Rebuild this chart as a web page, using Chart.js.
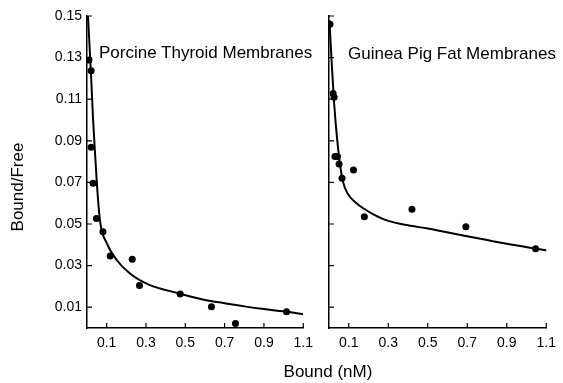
<!DOCTYPE html>
<html>
<head>
<meta charset="utf-8">
<script src="https://cdn.jsdelivr.net/npm/chart.js@4.4.1/dist/chart.umd.min.js"></script>
<style>
html,body{margin:0;padding:0;background:#fff;}
#wrap{position:relative;width:563px;height:383px;overflow:hidden;font-family:"Liberation Sans",Arial,sans-serif;color:#000;background:#fff;}
.box{position:absolute;top:0;height:383px;}
.lbl{position:absolute;font-size:17px;white-space:nowrap;line-height:1;color:#000;}
#ytitle{left:-32px;top:178px;width:100px;height:18px;line-height:18px;text-align:center;transform:rotate(-90deg);}
</style>
</head>
<body>
<div id="wrap">
  <div class="box" style="left:0;width:320px"><canvas id="c1"></canvas></div>
  <div class="box" style="left:300px;width:263px"><canvas id="c2"></canvas></div>
  <div class="lbl" style="left:99px;top:44px">Porcine Thyroid Membranes</div>
  <div class="lbl" style="left:348px;top:45px">Guinea Pig Fat Membranes</div>
  <div class="lbl" style="left:228px;width:200px;text-align:center;top:363px">Bound (nM)</div>
  <div class="lbl" id="ytitle">Bound/Free</div>
</div>
<script>
// ---- Data ----
const xTickValues = [0.1, 0.3, 0.5, 0.7, 0.9, 1.1];
const xTickLabels = ['0.1', '0.3', '0.5', '0.7', '0.9', '1.1'];
const yTickValues = [0.01, 0.03, 0.05, 0.07, 0.09, 0.11, 0.13, 0.15];
const yTickLabels = ['0.01', '0.03', '0.05', '0.07', '0.09', '0.11', '0.13', '0.15'];

// Porcine Thyroid Membranes
const thyroidBound = [0.010, 0.021, 0.021, 0.031, 0.048, 0.081, 0.118, 0.230, 0.267, 0.474, 0.633, 0.755, 1.015];
const thyroidRatio = [0.1288, 0.1237, 0.0869, 0.0696, 0.0527, 0.0463, 0.0346, 0.0330, 0.0204, 0.0163, 0.0102, 0.0022, 0.0078];
const thyroidFitBound = [0.005, 0.021, 0.031, 0.043, 0.055, 0.068, 0.101, 0.151, 0.217, 0.317, 0.466, 0.600, 0.700, 0.800, 0.900, 1.000, 1.100];
const thyroidFitRatio = [0.1500, 0.1208, 0.1000, 0.0808, 0.0631, 0.0503, 0.0407, 0.0327, 0.0263, 0.0207, 0.0167, 0.0135, 0.0119, 0.0104, 0.0091, 0.0080, 0.0066];

// Guinea Pig Fat Membranes
const fatBound = [0.005, 0.021, 0.026, 0.030, 0.043, 0.051, 0.066, 0.124, 0.179, 0.420, 0.693, 1.046];
const fatRatio = [0.1460, 0.1128, 0.1109, 0.0824, 0.0824, 0.0788, 0.0720, 0.0760, 0.0535, 0.0571, 0.0487, 0.0381];
const fatFitBound = [0.002, 0.013, 0.026, 0.040, 0.055, 0.072, 0.095, 0.133, 0.179, 0.232, 0.300, 0.400, 0.500, 0.700, 0.900, 1.045, 1.110];
const fatFitRatio = [0.1480, 0.1288, 0.1080, 0.0920, 0.0792, 0.0700, 0.0645, 0.0605, 0.0572, 0.0543, 0.0515, 0.0494, 0.0478, 0.0441, 0.0405, 0.0382, 0.0372];

// ---- Helpers ----
const FONT = '"Liberation Sans", Arial, sans-serif';
const pts = (xs, ys) => xs.map((x, i) => ({x: x, y: ys[i]}));

const innerTicks = {
  id: 'innerTicks',
  afterDraw(chart) {
    const {ctx, chartArea: a, scales: {x, y}} = chart;
    ctx.save();
    ctx.strokeStyle = '#000';
    ctx.lineWidth = 1.2;
    ctx.beginPath();
    x.ticks.forEach(t => {
      const px = x.getPixelForValue(t.value);
      ctx.moveTo(px, a.bottom);
      ctx.lineTo(px, a.bottom - 5);
    });
    y.ticks.forEach(t => {
      const py = y.getPixelForValue(t.value);
      ctx.moveTo(a.left, py);
      ctx.lineTo(a.left + 5, py);
    });
    ctx.stroke();
    ctx.restore();
  }
};

function makeChart(id, bx, by, fx, fy, showY, yWidth, padRight) {
  return new Chart(document.getElementById(id), {
    type: 'scatter',
    data: {
      datasets: [
        {
          type: 'line',
          data: pts(fx, fy),
          borderColor: '#000',
          borderWidth: 2,
          pointRadius: 0,
          fill: false,
          cubicInterpolationMode: 'monotone'
        },
        {
          type: 'scatter',
          data: pts(bx, by),
          backgroundColor: '#000',
          borderColor: '#000',
          borderWidth: 0,
          pointRadius: 3.5
        }
      ]
    },
    options: {
      responsive: true,
      maintainAspectRatio: false,
      animation: false,
      layout: {padding: {top: 16, right: padRight, left: 0, bottom: 0}},
      plugins: {legend: {display: false}, tooltip: {enabled: false}},
      scales: {
        x: {
          type: 'linear',
          min: 0,
          max: 1.1,
          afterBuildTicks: s => { s.ticks = xTickValues.map(v => ({value: v})); },
          afterFit: s => { s.height = 55; },
          ticks: {
            callback: (v, i) => xTickLabels[i],
            color: '#000',
            font: {family: FONT, size: 14},
            padding: 7,
            maxRotation: 0,
            autoSkip: false
          },
          grid: {display: false, drawTicks: false},
          border: {display: true, color: '#000', width: 1.5}
        },
        y: {
          type: 'linear',
          min: 0,
          max: 0.15,
          afterBuildTicks: s => { s.ticks = yTickValues.map(v => ({value: v})); },
          afterFit: s => { s.width = yWidth; },
          ticks: {
            display: showY,
            callback: (v, i) => yTickLabels[i],
            color: '#000',
            font: {family: FONT, size: 14},
            padding: 5,
            autoSkip: false
          },
          grid: {display: false, drawTicks: false},
          border: {display: true, color: '#000', width: 1.5}
        }
      }
    },
    plugins: [innerTicks]
  });
}

makeChart('c1', thyroidBound, thyroidRatio, thyroidFitBound, thyroidFitRatio, true, 87, 12);
makeChart('c2', fatBound, fatRatio, fatFitBound, fatFitRatio, false, 29, 11);
</script>
</body>
</html>
